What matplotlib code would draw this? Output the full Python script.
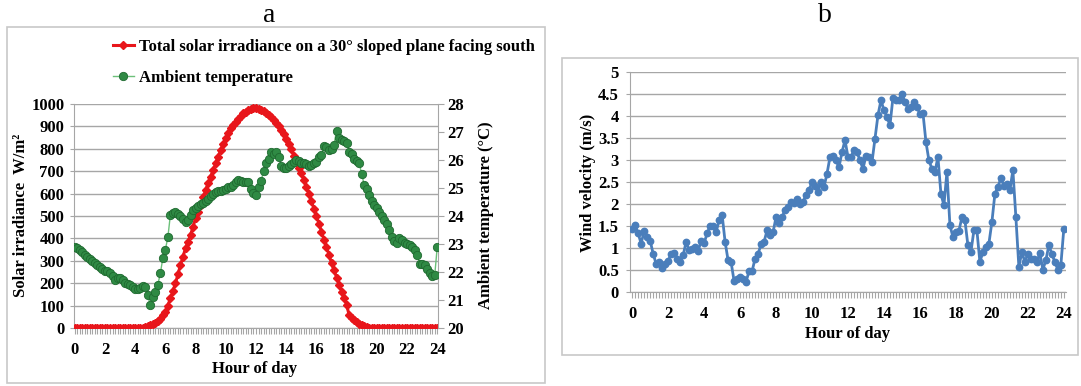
import numpy as np
import matplotlib
matplotlib.use("Agg")
import matplotlib.pyplot as plt
from matplotlib.ticker import MultipleLocator, FuncFormatter
from matplotlib.lines import Line2D
from matplotlib.patches import Rectangle

# ---------------- data (10-minute steps, hour 0 .. 24) ----------------
irradiance = [
    0, 0, 0, 0, 0, 0,                      # h0
    0, 0, 0, 0, 0, 0,                      # h1
    0, 0, 0, 0, 0, 0,                      # h2
    0, 0, 0, 0, 0, 0,                      # h3
    0, 0, 0, 2, 4, 7,                      # h4
    12, 17, 24, 32, 42, 56,                # h5
    73, 100, 132, 165, 199, 240,           # h6
    281, 318, 356, 385, 415, 452,          # h7
    490, 520, 549, 583, 616, 646,          # h8
    676, 705, 735, 765, 795, 822,          # h9
    847, 870, 891, 906, 921, 935,          # h10
    948, 958, 966, 973, 977, 980,          # h11
    981, 979, 975, 969, 960, 950,          # h12
    940, 928, 914, 900, 885, 866,          # h13
    845, 822, 797, 770, 740, 715,          # h14
    690, 660, 630, 598, 565, 533,          # h15
    500, 466, 430, 395, 362, 326,          # h16
    290, 258, 225, 193, 162, 132,          # h17
    103, 58, 45, 35, 28, 20,               # h18
    13, 7, 3, 0, 0, 0,                     # h19
    0, 0, 0, 0, 0, 0,                      # h20
    0, 0, 0, 0, 0, 0,                      # h21
    0, 0, 0, 0, 0, 0,                      # h22
    0, 0, 0, 0, 0, 0,                      # h23
    0,                                     # h24
]

temperature = [
    22.9, 22.85, 22.8, 22.72, 22.62, 22.55,
    22.48, 22.4, 22.32, 22.25, 22.18, 22.1,
    22.05, 22.05, 21.95, 21.85, 21.7, 21.78,
    21.8, 21.7, 21.62, 21.58, 21.52, 21.45,
    21.4, 21.38, 21.42, 21.5, 21.45, 21.18,
    20.82, 21.1, 21.3, 21.55, 21.95, 22.5,
    22.8, 23.25, 24.05, 24.12, 24.13, 24.08,
    24.0, 23.88, 23.8, 23.85, 24.05, 24.2,
    24.28, 24.35, 24.42, 24.48, 24.55, 24.62,
    24.72, 24.8, 24.87, 24.9, 24.88, 24.93,
    24.98, 25.05, 25.05, 25.1, 25.2, 25.3,
    25.25, 25.2, 25.2, 25.23, 24.95, 24.82,
    24.75, 25.05, 25.25, 25.6, 25.9, 26.05,
    26.3, 26.2, 26.28, 26.12, 25.8, 25.72,
    25.7, 25.78, 25.85, 25.94, 26.0, 25.98,
    25.9, 25.88, 25.84, 25.8, 25.82, 25.9,
    25.94, 26.1, 26.18, 26.5, 26.45, 26.35,
    26.4, 26.55, 27.05, 26.8, 26.72, 26.68,
    26.6, 26.3, 26.2, 26.05, 25.95, 25.88,
    25.5, 25.1, 24.95, 24.75, 24.55, 24.4,
    24.3, 24.15, 24.0, 23.85, 23.7, 23.5,
    23.25, 23.1, 23.05, 23.2, 23.15, 23.05,
    23.0, 22.95, 22.9, 22.8, 22.6, 22.3,
    22.3, 22.25, 22.1, 21.95, 21.85, 21.88,
    22.9,
]

wind = [
    1.44, 1.52, 1.33, 1.1, 1.39, 1.25,
    1.17, 0.87, 0.64, 0.68, 0.55, 0.64,
    0.7, 0.87, 0.89, 0.76, 0.68, 0.83,
    1.14, 0.95, 0.98, 1.02, 0.93, 1.16,
    1.11, 1.33, 1.5, 1.49, 1.36, 1.63,
    1.76, 1.14, 0.72, 0.68, 0.25, 0.3,
    0.33, 0.3, 0.23, 0.48, 0.47, 0.76,
    0.87, 1.08, 1.14, 1.4, 1.29, 1.36,
    1.7, 1.57, 1.7, 1.86, 1.93, 2.05,
    2.02, 2.12, 2.0, 2.05, 2.2, 2.31,
    2.5, 2.42, 2.27, 2.5, 2.39, 2.69,
    3.07, 3.1, 2.99, 2.84, 3.18, 3.45,
    3.07, 3.07, 3.22, 3.18, 2.99, 2.8,
    3.1, 3.07, 2.95, 3.48, 4.02, 4.36,
    4.13, 3.98, 3.79, 4.42, 4.36, 4.37,
    4.51, 4.32, 4.17, 4.2, 4.32, 4.2,
    4.05, 4.07, 3.41, 2.99, 2.8, 2.73,
    3.07, 2.23, 1.97, 2.73, 1.52, 1.25,
    1.36, 1.39, 1.7, 1.63, 1.06, 0.91,
    1.4, 1.4, 0.68, 0.91, 1.02, 1.1,
    1.59, 2.23, 2.39, 2.58, 2.42, 2.45,
    2.31, 2.77, 1.7, 0.57, 0.91, 0.68,
    0.87, 0.76, 0.74, 0.68, 0.89, 0.51,
    0.72, 1.06, 0.87, 0.68, 0.51, 0.61,
    1.44,
]

hours = np.arange(len(irradiance)) / 6.0
hour_ticks = list(range(0, 25, 2))
irr_ticks = list(range(0, 1001, 100))
temp_ticks = list(range(20, 29))
wind_ticks = [0, 0.5, 1, 1.5, 2, 2.5, 3, 3.5, 4, 4.5, 5]

label_irr = "Total solar irradiance on a 30° sloped plane facing south"
label_temp = "Ambient temperature"

# ---------------- style ----------------
W, H = 1081, 386
SERIF = ["Liberation Serif", "DejaVu Serif"]
FS = 12
GRID = "#a6a6a6"
RED = "#e8161b"
GREEN_LINE = "#6cc07a"
GREEN_MK = "#2f8a44"
GREEN_EDGE = "#1f6a30"
BLUE = "#4a7ebb"

plt.rcParams["font.family"] = SERIF
plt.rcParams["font.weight"] = "bold"

fig = plt.figure(figsize=(W / 100, H / 100), dpi=100)


def px_axes(l, t, r, b):
    return fig.add_axes([l / W, 1 - b / H, (r - l) / W, (b - t) / H])


def style_x(ax):
    ax.set_xticks(hour_ticks)
    ax.xaxis.set_minor_locator(MultipleLocator(1 / 6))
    ax.tick_params(axis="x", which="both", direction="out", length=4,
                   width=0.8, color=GRID, pad=6)
    for lab in ax.get_xticklabels():
        lab.set_fontweight("bold")
        lab.set_fontsize(FS)


# frames
fig.patches.append(Rectangle((7 / W, 1 - 383 / H), 538 / W, 356 / H,
                             transform=fig.transFigure, fill=False,
                             edgecolor="#c8c8c8", lw=1.2))
fig.patches.append(Rectangle((562 / W, 1 - 355 / H), 516 / W, 297 / H,
                             transform=fig.transFigure, fill=False,
                             edgecolor="#c8c8c8", lw=1.2))

fig.text(269 / W, 1 - 16 / H, "a", ha="center", va="center",
         fontsize=20, fontweight="normal")
fig.text(825 / W, 1 - 16 / H, "b", ha="center", va="center",
         fontsize=20, fontweight="normal")

# ---------------- panel a ----------------
ax1 = px_axes(74, 104, 438, 328)
ax1.set_xlim(-0.05, 24.05)
ax1.set_ylim(0, 1000)
ax1.set_yticks(irr_ticks)
ax1.yaxis.grid(True, color=GRID, lw=1)
ax1.set_axisbelow(True)
for s in ["top", "right"]:
    ax1.spines[s].set_visible(False)
ax1.spines["left"].set_color(GRID)
ax1.spines["bottom"].set_color(GRID)
ax1.tick_params(axis="y", length=3, color=GRID, pad=4, labelsize=FS)
style_x(ax1)
ax1.plot(hours, irradiance, color=RED, lw=2.2, marker="D", ms=3.8,
         mec=RED, mfc=RED, zorder=3)
ax1.set_xlabel("Hour of day", fontsize=FS, fontweight="bold")
ax1.xaxis.set_label_coords(0.497, -0.147)
ax1.set_ylabel("Solar irradiance  W/m²", fontsize=FS, fontweight="bold")
ax1.yaxis.set_label_coords(-0.123, 0.504)

ax1t = ax1.twinx()
ax1t.set_xlim(-0.05, 24.05)
ax1t.set_ylim(20, 28)
ax1t.set_yticks(temp_ticks)
for s in ["top", "left", "bottom"]:
    ax1t.spines[s].set_visible(False)
ax1t.spines["right"].set_color(GRID)
ax1t.tick_params(axis="y", length=4, color=GRID, pad=3, labelsize=FS)
ax1t.plot(hours, temperature, color=GREEN_LINE, lw=1.0, marker="o", ms=6.0,
          mfc=GREEN_MK, mec=GREEN_EDGE, mew=0.6, zorder=4)
ax1t.set_ylabel("Ambient temperature (°C)", fontsize=FS, fontweight="bold")
ax1t.yaxis.set_label_coords(1.11, 0.504)

h_red = Line2D([], [], color=RED, lw=2.2, marker="D", ms=3.8, mec=RED, mfc=RED)
h_green = Line2D([], [], color=GREEN_LINE, lw=1.0, marker="o", ms=6.0,
                 mfc=GREEN_MK, mec=GREEN_EDGE, mew=0.6)
fig.legend([h_red, h_green], [label_irr, label_temp], loc="upper left",
           bbox_to_anchor=(113 / W, 1 - 39 / H), frameon=False, numpoints=1,
           borderaxespad=0, borderpad=0, handlelength=1.25,
           handletextpad=0.3, labelspacing=0.9,
           prop={"family": SERIF, "weight": "bold", "size": FS})

# ---------------- panel b ----------------
ax2 = px_axes(630, 72, 1066, 292)
ax2.set_xlim(-0.12, 24.12)
ax2.set_ylim(0, 5)
ax2.set_yticks(wind_ticks)
ax2.yaxis.set_major_formatter(FuncFormatter(lambda v, p: f"{v:g}"))
ax2.yaxis.grid(True, color=GRID, lw=1)
ax2.set_axisbelow(True)
for s in ["top", "right"]:
    ax2.spines[s].set_visible(False)
ax2.spines["left"].set_color(GRID)
ax2.spines["bottom"].set_color(GRID)
ax2.tick_params(axis="y", length=3, color=GRID, pad=5, labelsize=FS)
style_x(ax2)
ax2.plot(hours, wind, color=BLUE, lw=2.0, marker="o", ms=4.6,
         mfc=BLUE, mec=BLUE, zorder=3)
ax2.set_xlabel("Hour of day", fontsize=FS, fontweight="bold")
ax2.xaxis.set_label_coords(0.5, -0.155)
ax2.set_ylabel("Wind velocity (m/s)", fontsize=FS, fontweight="bold")
ax2.yaxis.set_label_coords(-0.078, 0.495)

fig.savefig("out.png", dpi=100)
